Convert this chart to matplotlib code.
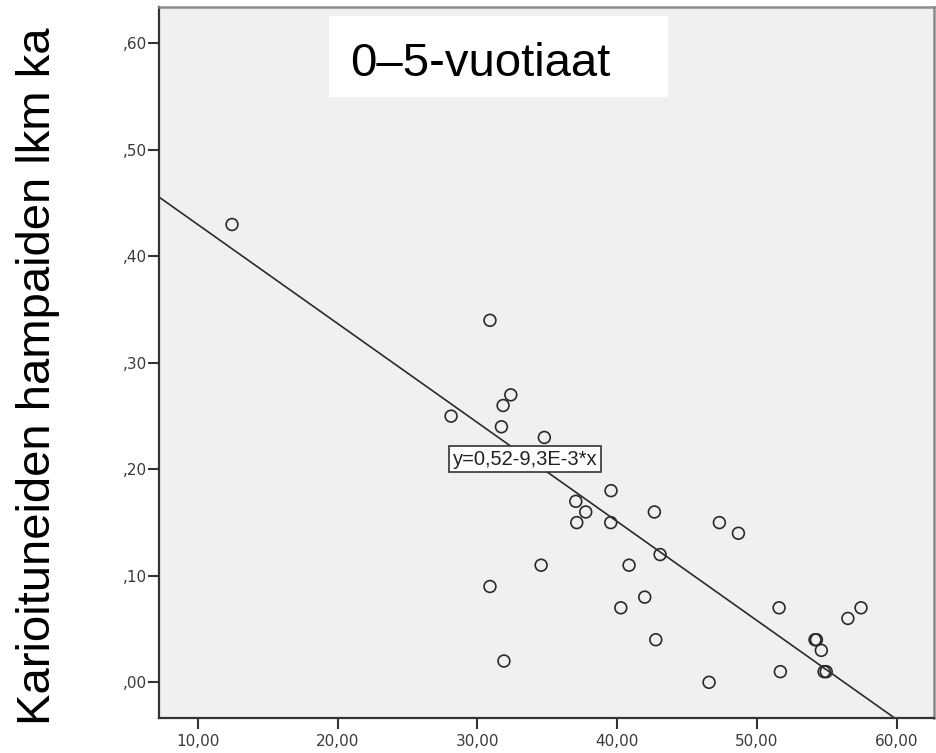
import matplotlib
matplotlib.use("Agg")
import matplotlib.pyplot as plt
from matplotlib.patches import Rectangle
import numpy as np

# data
age_x = [12.45, 30.9, 28.12, 32.39, 31.84, 31.72, 34.79, 39.56, 37.04, 37.75,
         37.11, 39.54, 42.66, 47.31, 48.67, 43.07, 34.56, 40.85, 30.9, 41.97,
         40.26, 31.9, 42.76, 46.57, 51.58, 51.67, 54.15, 54.25, 54.6, 54.8,
         54.95, 56.5, 57.44]
caries_y = [0.43, 0.34, 0.25, 0.27, 0.26, 0.24, 0.23, 0.18, 0.17, 0.16,
            0.15, 0.15, 0.16, 0.15, 0.14, 0.12, 0.11, 0.11, 0.09, 0.08,
            0.07, 0.02, 0.04, 0.00, 0.07, 0.01, 0.04, 0.04, 0.03, 0.01,
            0.01, 0.06, 0.07]

fit_intercept = 0.523
fit_slope = -0.0093
fit_label = "y=0,52-9,3E-3*x"

x_ticks = [10, 20, 30, 40, 50, 60]
x_ticklabels = ["10,00", "20,00", "30,00", "40,00", "50,00", "60,00"]
y_ticks = [0.0, 0.1, 0.2, 0.3, 0.4, 0.5, 0.6]
y_ticklabels = [",00", ",10", ",20", ",30", ",40", ",50", ",60"]

title = "0\u20135-vuotiaat"
ylabel = "Karioituneiden hampaiden lkm ka"

W, H = 936, 753
fig = plt.figure(figsize=(W / 100, H / 100), dpi=100)
ax = fig.add_axes([159.3 / W, 1 - 718.3 / H, (934 - 159.3) / W, (718.3 - 7.3) / H])
ax.set_facecolor("#f0f0f0")

ax.set_xlim(7.25, 62.66)
ax.set_ylim(-0.0338, 0.634)

ax.axline((0, fit_intercept), slope=fit_slope, color="#2a2a2a", lw=1.2, zorder=2)
ax.scatter(age_x, caries_y, s=8.5 ** 2, facecolors="none", edgecolors="#2a2a2a",
           linewidths=1.2, zorder=3)

ax.set_xticks(x_ticks)
ax.set_xticklabels(x_ticklabels)
ax.set_yticks(y_ticks)
ax.set_yticklabels(y_ticklabels)
ax.tick_params(direction="out", length=8, width=1.5, color="#333333",
               labelsize=11, labelcolor="#3a3a3a")
ax.tick_params(axis="y", pad=1)
ax.tick_params(axis="x", pad=3)

for side in ("left", "bottom"):
    ax.spines[side].set_color("#333333")
    ax.spines[side].set_linewidth(1.6)
for side in ("top", "right"):
    ax.spines[side].set_color("#8a8a8a")
    ax.spines[side].set_linewidth(1.8)

# equation label on the fit line
ax.text(33.4, 0.2095, fit_label, ha="center", va="center", fontsize=14.5,
        family="Liberation Sans", color="#222222",
        bbox=dict(boxstyle="square,pad=0.18", fc="white", ec="#333333", lw=1.2),
        zorder=5)

# white title box
ax.add_patch(Rectangle((329 / W, 1 - 96.7 / H), (667.7 - 329) / W, (96.7 - 16) / H,
                       transform=fig.transFigure, fc="white", ec="none", zorder=6))
fig.text(350 / W, 1 - 75.7 / H, title, ha="left", va="baseline", fontsize=34,
         family="Liberation Sans", color="black", zorder=7)

fig.text(50 / W, 1 - 376.6 / H, ylabel, rotation=90, rotation_mode="anchor",
         ha="center", va="baseline", fontsize=34, family="Liberation Sans",
         color="black")

fig.savefig("out.png", dpi=100)
